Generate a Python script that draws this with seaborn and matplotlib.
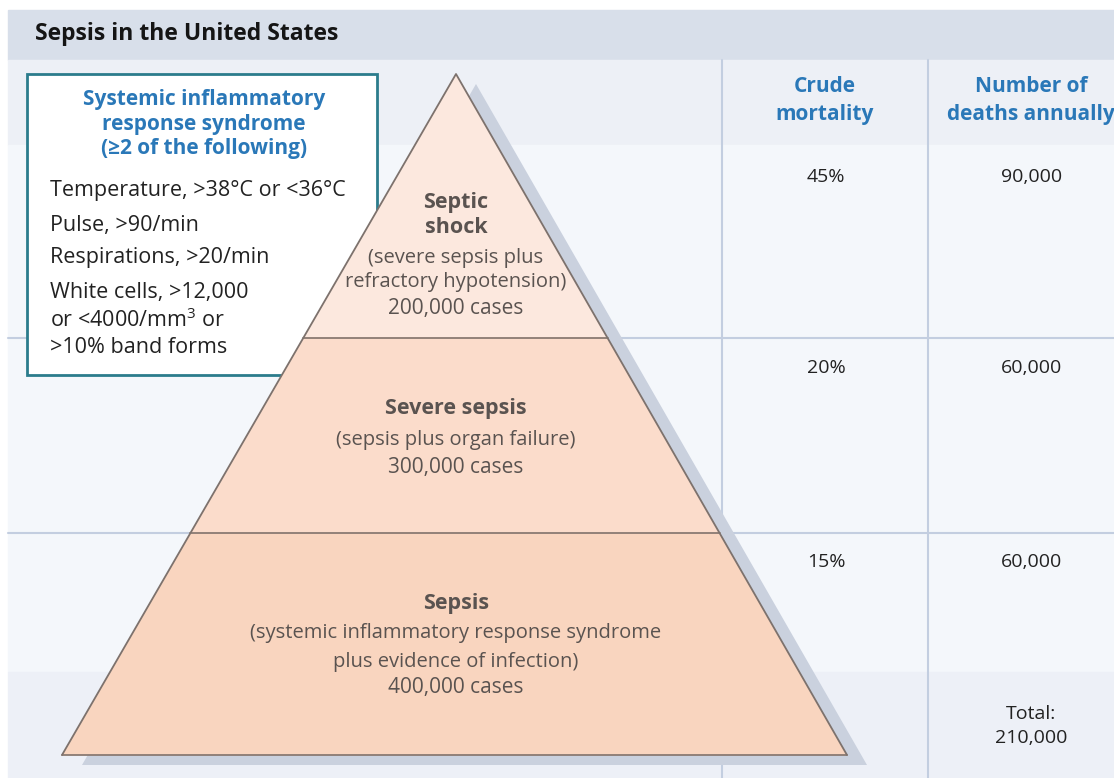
import matplotlib
matplotlib.use("Agg")
import matplotlib.pyplot as plt
import seaborn as sns
import numpy as np

# Data
title = "Sepsis in the United States"
tiers = ["Septic\nshock", "Severe sepsis", "Sepsis"]
descriptions = ["(severe sepsis plus\nrefractory hypotension)",
                "(sepsis plus organ failure)",
                "(systemic inflammatory response syndrome\nplus evidence of infection)"]
cases = [200000, 300000, 400000]
mortality = [45, 20, 15]
deaths = [90000, 60000, 60000]
total_deaths = 210000
col_headers = ["Crude\nmortality", "Number of\ndeaths annually"]
sirs_title = "Systemic inflammatory\nresponse syndrome\n(\u22652 of the following)"
sirs_items = ["Temperature, >38\u00b0C or <36\u00b0C",
              "Pulse, >90/min",
              "Respirations, >20/min",
              "White cells, >12,000\nor <4000/mm$^3$ or\n>10% band forms"]

sns.set_theme(style="white")
plt.rcParams["font.family"] = ["Open Sans", "DejaVu Sans"]
plt.rcParams["mathtext.fontset"] = "custom"
plt.rcParams["mathtext.rm"] = "Open Sans"

W, H = 1114, 778
fig = plt.figure(figsize=(W / 100, H / 100), dpi=100)
ax = fig.add_axes([0, 0, 1, 1])
ax.set_xlim(0, W)
ax.set_ylim(H, 0)
ax.axis("off")

blue = "#2a78b8"
txt = "#222222"
ptxt = "#5a5350"

# background bands
ax.add_patch(plt.Rectangle((8, 10), W, 50, color="#d8dfea", zorder=0))
ax.add_patch(plt.Rectangle((8, 60), W, 85, color="#edf0f6", zorder=0))
ax.add_patch(plt.Rectangle((8, 145), W, 527, color="#f4f7fb", zorder=0))
ax.add_patch(plt.Rectangle((8, 672), W, 110, color="#edf0f7", zorder=0))
ax.text(35, 34, title, fontsize=16.5, fontweight="bold", color="#151515",
        va="center", ha="left")

# grid lines
col_x = [722, 928]
row_y = [338, 533]
for x in col_x:
    ax.plot([x, x], [60, H], color="#c3cee0", lw=1.5, zorder=1)
for y in row_y:
    ax.plot([8, W], [y, y], color="#c3cee0", lw=1.5, zorder=1)

# SIRS box (sits behind the pyramid)
ax.add_patch(plt.Rectangle((27, 74), 350, 301, facecolor="white",
                           edgecolor="#2b7c8c", lw=2, zorder=1.5))
ax.text(204, 124, sirs_title, ha="center", va="center", fontsize=15,
        fontweight="bold", color=blue, linespacing=1.21, zorder=1.6)
line_y = [190, 225, 258, 292, 320, 347]
lines = [ln for it in sirs_items for ln in it.split("\n")]
for y, ln in zip(line_y, lines):
    ax.text(50, y, ln, ha="left", va="center", fontsize=15.5, color=txt,
            zorder=1.6)

# pyramid geometry
apex = np.array([456, 74])
bl = np.array([62, 755])
br = np.array([847, 755])
bounds = [74, 338, 533, 755]


def edge_x(p0, p1, y):
    t = (y - p0[1]) / (p1[1] - p0[1])
    return p0[0] + t * (p1[0] - p0[0])


# shadow
off = np.array([20, 10])
sh = np.array([apex + off, br + off, bl + off])
ax.fill(sh[:, 0], sh[:, 1], color="#cad1de", zorder=2, lw=0)

fills = ["#fce8de", "#fbdccb", "#f9d5bf"]
for i in range(3):
    y0, y1 = bounds[i], bounds[i + 1]
    xs = [edge_x(apex, bl, y0), edge_x(apex, br, y0),
          edge_x(apex, br, y1), edge_x(apex, bl, y1)]
    ys = [y0, y0, y1, y1]
    ax.fill(xs, ys, color=fills[i], zorder=3, lw=0)
    ax.plot([xs[3], xs[2]], [y1, y1], color="#8a7a72", lw=1.3, zorder=4)
ax.plot([bl[0], apex[0], br[0]], [bl[1], apex[1], br[1]],
        color="#7d726d", lw=1.3, zorder=4)

# pyramid labels
cx = 456
name_y = [215, 408, 603]
desc_y = [(258, 282), (440,), (633, 662)]
case_y = [308, 467, 688]
for name, desc, n, yn, yds, yc in zip(tiers, descriptions, cases,
                                       name_y, desc_y, case_y):
    ax.text(cx, yn, name, ha="center", va="center", fontsize=15.5,
            fontweight="bold", color=ptxt, linespacing=1.22, zorder=5)
    for line, yd in zip(desc.split("\n"), yds):
        ax.text(cx, yd, line, ha="center", va="center", fontsize=14.5,
                color=ptxt, zorder=5)
    ax.text(cx, yc, f"{n:,} cases", ha="center", va="center",
            fontsize=15, color=ptxt, zorder=5)

# column headers and values
hx = [825, 1031]
for x, h in zip(hx, col_headers):
    ax.text(x, 100.5, h, ha="center", va="center", fontsize=15,
            fontweight="bold", color=blue, linespacing=1.45)
val_y = [177, 368, 562]
for y, m, d in zip(val_y, mortality, deaths):
    ax.text(826, y, f"{m}%", ha="center", va="center", fontsize=14, color=txt)
    ax.text(1032, y, f"{d:,}", ha="center", va="center", fontsize=14, color=txt)
ax.text(1031, 726, f"Total:\n{total_deaths:,}", ha="center", va="center",
        fontsize=14, color=txt, linespacing=1.38)

fig.savefig("out.png", dpi=100)
